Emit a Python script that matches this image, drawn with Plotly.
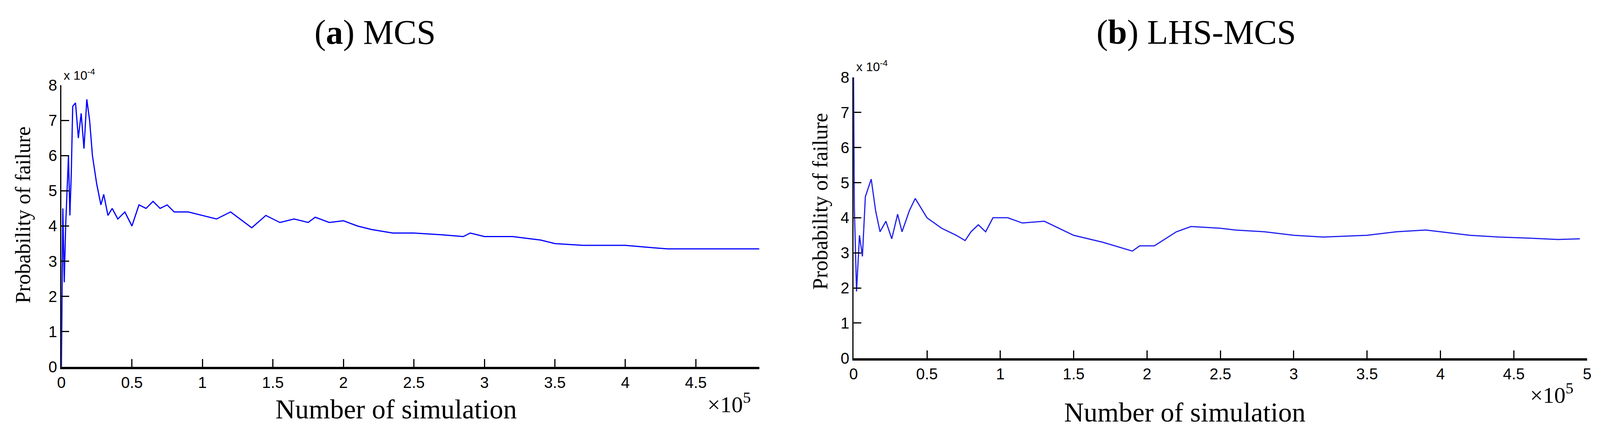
import plotly.graph_objects as go

# MCS (x in 1e5, y in 1e-4)
mcs_x = [0, 0.01, 0.02, 0.03, 0.04, 0.05, 0.06, 0.07, 0.08, 0.1, 0.12, 0.14, 0.16, 0.18, 0.2, 0.22, 0.25, 0.28, 0.3, 0.33, 0.36, 0.4, 0.45, 0.5, 0.55, 0.6, 0.65, 0.7, 0.75, 0.8, 0.9, 1.0, 1.1, 1.2, 1.3, 1.35, 1.45, 1.55, 1.65, 1.75, 1.8, 1.9, 2.0, 2.1, 2.2, 2.35, 2.5, 2.7, 2.85, 2.9, 3.0, 3.2, 3.4, 3.5, 3.7, 4.0, 4.2, 4.3, 4.5, 4.95]
mcs_y = [0, 4.5, 2.4, 4.0, 5.0, 6.0, 4.3, 5.5, 7.4, 7.5, 6.5, 7.2, 6.2, 7.6, 7.0, 6.0, 5.2, 4.6, 4.9, 4.3, 4.5, 4.2, 4.4, 4.0, 4.6, 4.5, 4.7, 4.5, 4.6, 4.4, 4.4, 4.3, 4.2, 4.4, 4.1, 3.95, 4.3, 4.1, 4.2, 4.1, 4.25, 4.1, 4.15, 4.0, 3.9, 3.8, 3.8, 3.75, 3.7, 3.8, 3.7, 3.7, 3.6, 3.5, 3.45, 3.45, 3.38, 3.35, 3.35, 3.35]

# LHS-MCS
lhs_x = [0, 0.005, 0.02, 0.04, 0.06, 0.08, 0.12, 0.15, 0.18, 0.22, 0.26, 0.3, 0.33, 0.38, 0.42, 0.5, 0.6, 0.7, 0.76, 0.8, 0.85, 0.9, 0.95, 1.05, 1.15, 1.3, 1.4, 1.5, 1.7, 1.9, 1.95, 2.05, 2.2, 2.3, 2.5, 2.6, 2.8, 3.0, 3.2, 3.5, 3.7, 3.9, 4.0, 4.2, 4.4, 4.6, 4.8, 4.95]
lhs_y = [8, 4.3, 1.9, 3.5, 2.9, 4.6, 5.1, 4.2, 3.6, 3.9, 3.4, 4.1, 3.6, 4.2, 4.55, 4.0, 3.7, 3.5, 3.35, 3.6, 3.8, 3.6, 4.0, 4.0, 3.85, 3.9, 3.7, 3.5, 3.3, 3.05, 3.2, 3.2, 3.6, 3.75, 3.7, 3.65, 3.6, 3.5, 3.45, 3.5, 3.6, 3.65, 3.6, 3.5, 3.45, 3.42, 3.38, 3.4]

left_ticks_x = [0, 0.5, 1, 1.5, 2, 2.5, 3, 3.5, 4, 4.5]
right_ticks_x = [0, 0.5, 1, 1.5, 2, 2.5, 3, 3.5, 4, 4.5, 5]
ticks_y = [0, 1, 2, 3, 4, 5, 6, 7, 8]

fig = go.Figure()
fig.add_trace(go.Scatter(x=mcs_x, y=mcs_y, mode="lines", line=dict(color="#0000ff", width=3), xaxis="x", yaxis="y", showlegend=False))
fig.add_trace(go.Scatter(x=lhs_x, y=lhs_y, mode="lines", line=dict(color="#2020ee", width=3), xaxis="x2", yaxis="y2", showlegend=False))

tickfont = dict(family="Liberation Sans Narrow, Liberation Sans, Arial", size=40, color="black")
common = dict(showgrid=False, zeroline=False, showline=True, linecolor="black", ticks="inside", tickcolor="black", ticklen=20, tickwidth=3, tickfont=tickfont)

fig.update_layout(
    width=4100, height=1116, margin=dict(l=0, r=0, t=0, b=0),
    plot_bgcolor="white", paper_bgcolor="white",
    font=dict(color="black"),
    xaxis=dict(domain=[0.0339, 0.4720], range=[0, 4.95], tickvals=left_ticks_x, ticktext=[f"{v:g}" for v in left_ticks_x], anchor="y", linewidth=6, **common),
    yaxis=dict(domain=[0.1523, 0.8244], range=[0, 8], tickvals=ticks_y, anchor="x", linewidth=3, **common),
    xaxis2=dict(domain=[0.5312, 0.9917], range=[0, 5], tickvals=right_ticks_x, ticktext=[f"{v:g}" for v in right_ticks_x], anchor="y2", linewidth=6, **common),
    yaxis2=dict(domain=[0.1729, 0.8432], range=[0, 8], tickvals=ticks_y, anchor="x2", linewidth=3, **common),
)

serif = "Liberation Serif, Times New Roman, serif"
ann = [
    dict(x=947/4100, y=1-55/1116, text="(<b>a</b>) MCS", font=dict(family=serif, size=88, color="black")),
    dict(x=3060/4100, y=1-55/1116, text="(<b>b</b>) LHS-MCS", font=dict(family=serif, size=88, color="black")),
    dict(x=1000/4100, y=1-1059/1116, text="Number of simulation", font=dict(family=serif, size=70, color="black")),
    dict(x=3030/4100, y=1-1068/1116, text="Number of simulation", font=dict(family=serif, size=70, color="black")),
    dict(x=1857/4100, y=1-1043/1116, text="×10<sup>5</sup>", font=dict(family=serif, size=58, color="black")),
    dict(x=3975/4100, y=1-1018/1116, text="×10<sup>5</sup>", font=dict(family=serif, size=58, color="black")),
    dict(x=40/4100, y=1-541/1116, text="Probability of failure", textangle=-90, font=dict(family=serif, size=54, color="black")),
    dict(x=2092/4100, y=1-505/1116, text="Probability of failure", textangle=-90, font=dict(family=serif, size=54, color="black")),
    dict(x=185/4100, y=1-168/1116, text="x 10<sup>-4</sup>", font=dict(family="Liberation Sans Narrow, Liberation Sans", size=32, color="black")),
    dict(x=2225/4100, y=1-145/1116, text="x 10<sup>-4</sup>", font=dict(family="Liberation Sans Narrow, Liberation Sans", size=32, color="black")),
]
for a in ann:
    a.update(xref="paper", yref="paper", showarrow=False, xanchor="center", yanchor="middle")
fig.update_layout(annotations=ann)
fig.write_html("out.html")
